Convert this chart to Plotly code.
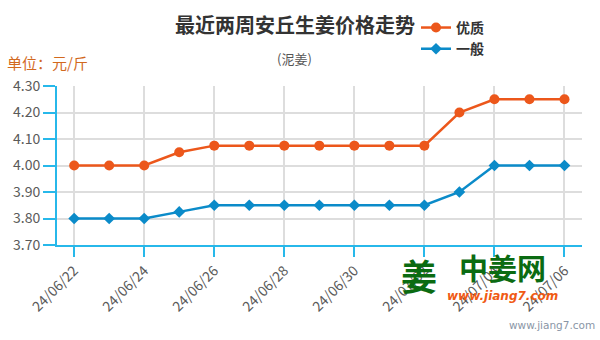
import plotly.graph_objects as go

# Anqiu ginger prices (yuan / jin), last two weeks
dates = ["24/06/22", "24/06/23", "24/06/24", "24/06/25", "24/06/26", "24/06/27",
         "24/06/28", "24/06/29", "24/06/30", "24/07/01", "24/07/02", "24/07/03",
         "24/07/04", "24/07/05", "24/07/06"]
premium = [4.00, 4.00, 4.00, 4.05, 4.075, 4.075, 4.075, 4.075, 4.075, 4.075,
           4.075, 4.20, 4.25, 4.25, 4.25]
ordinary = [3.80, 3.80, 3.80, 3.825, 3.85, 3.85, 3.85, 3.85, 3.85, 3.85,
            3.85, 3.90, 4.00, 4.00, 4.00]
series_names = ["优质", "一般"]
y_ticks = [3.70, 3.80, 3.90, 4.00, 4.10, 4.20, 4.30]

FONT = "Noto Sans CJK SC"
ORANGE = "#ec571b"
BLUE = "#0b8bc9"
AXIS = "#27b8ea"
GRID = "#dddddd"

# plot area in pixels: x 57..582, y 84..245
L, W, T, H = 57, 525, 84, 161


def px(xp):
    return (xp - L) / W


def py(yp):
    return (T + H - yp) / H


x = list(range(len(dates)))

fig = go.Figure()
fig.add_trace(go.Scatter(
    x=x, y=premium, name="<b>" + series_names[0] + "</b>", mode="lines+markers",
    line=dict(color=ORANGE, width=2.5),
    marker=dict(symbol="circle", size=10, color=ORANGE),
))
fig.add_trace(go.Scatter(
    x=x, y=ordinary, name="<b>" + series_names[1] + "</b>", mode="lines+markers",
    line=dict(color=BLUE, width=2.5),
    marker=dict(symbol="diamond", size=9, color=BLUE),
))

tick_idx = x[::2]
fig.update_xaxes(
    range=[-0.49, 14.5],
    tickmode="array", tickvals=tick_idx, ticktext=[dates[i] for i in tick_idx],
    tickangle=-45,
    ticks="outside", ticklen=10, tickwidth=1.5, tickcolor=AXIS,
    showline=True, linecolor=AXIS, linewidth=2,
    showgrid=True, gridcolor=GRID, gridwidth=2,
    zeroline=False,
    tickfont=dict(family=FONT, size=14, color="#5a5a5a"),
)
fig.update_yaxes(
    range=[3.70, 4.30],
    tickmode="array", tickvals=y_ticks, ticktext=[f"{v:.2f}" for v in y_ticks],
    ticks="outside", ticklen=12, tickwidth=1.5, tickcolor=AXIS,
    showline=True, linecolor=AXIS, linewidth=2,
    showgrid=True, gridcolor=GRID, gridwidth=2,
    zeroline=False,
    tickfont=dict(family=FONT, size=14, color="#5a5a5a"),
)

annotations = [
    dict(text="<b>最近两周安丘生姜价格走势</b>", xref="paper", yref="paper",
         x=px(295), y=py(22), xanchor="center", yanchor="middle",
         showarrow=False, font=dict(family=FONT, size=20, color="#333333")),
    dict(text="(泥姜)", xref="paper", yref="paper",
         x=px(294), y=py(56), xanchor="center", yanchor="middle",
         showarrow=False, font=dict(family=FONT, size=13, color="#555555")),
    dict(text="单位：元/斤", xref="paper", yref="paper",
         x=px(5), y=py(60), xanchor="left", yanchor="middle",
         showarrow=False, font=dict(family=FONT, size=15, color="#d2691e")),
    # site logo
    dict(text="<b>姜</b>", xref="paper", yref="paper",
         x=px(419), y=py(275), xanchor="center", yanchor="middle",
         showarrow=False, font=dict(family=FONT, size=36, color="#0b6b12")),
    dict(text="<b>中姜网</b>", xref="paper", yref="paper",
         x=px(502), y=py(267), xanchor="center", yanchor="middle",
         showarrow=False, font=dict(family=FONT, size=29, color="#0b6b12")),
    dict(text="<b><i>www.jiang7.com</i></b>", xref="paper", yref="paper",
         x=px(502), y=py(297), xanchor="center", yanchor="middle",
         showarrow=False, font=dict(family="DejaVu Sans", size=12, color="#f05a14")),
    dict(text="www.jiang7.com", xref="paper", yref="paper",
         x=px(597), y=py(326), xanchor="right", yanchor="middle",
         showarrow=False, font=dict(family="DejaVu Sans", size=10.5, color="#8a96a6")),
]

fig.update_layout(
    width=600, height=340,
    margin=dict(l=L, r=600 - L - W, t=T, b=340 - T - H),
    paper_bgcolor="white", plot_bgcolor="white",
    showlegend=True,
    legend=dict(
        x=px(416), y=py(9), xanchor="left", yanchor="top",
        font=dict(family=FONT, size=14, color="#333333"),
        itemwidth=30, tracegroupgap=0, bgcolor="rgba(0,0,0,0)",
    ),
    annotations=annotations,
)

fig.write_html("out.html")
